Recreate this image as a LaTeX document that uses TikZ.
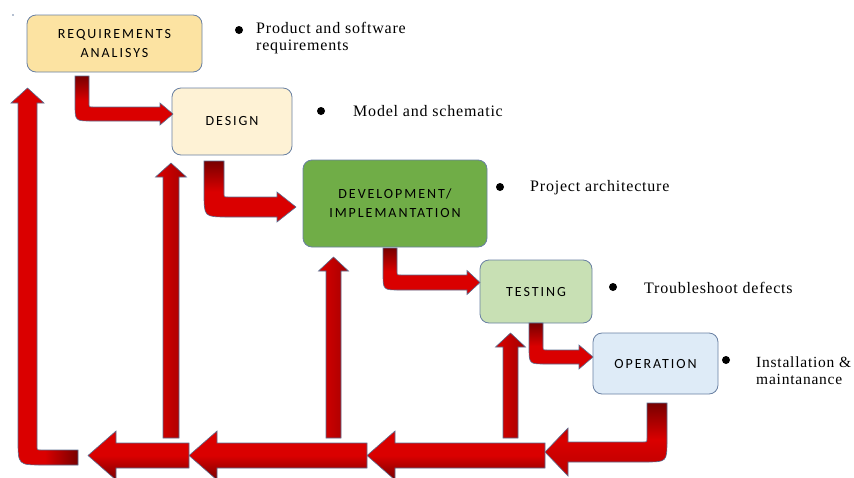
\documentclass[tikz,border=0pt]{standalone}
\usepackage{fontspec}
\setmainfont{Liberation Serif}[LetterSpace=5]
\setsansfont{Carlito}[LetterSpace=14]
\usetikzlibrary{positioning}

% colours of the stages and of the block arrows
\definecolor{reqfill}{HTML}{FCE3A2}
\definecolor{designfill}{HTML}{FEF2D5}
\definecolor{devfill}{HTML}{70AD47}
\definecolor{testfill}{HTML}{C8E0B4}
\definecolor{opfill}{HTML}{DEEBF7}
\definecolor{boxline}{RGB}{105,128,162}
\definecolor{arrline}{RGB}{90,110,145}
\definecolor{arrred}{HTML}{DA0000}
\definecolor{arrdark}{HTML}{780000}

\begin{document}
\begin{tikzpicture}[x=1pt,y=-1pt,
    stagebox/.style={rectangle, rounded corners=9pt, draw=boxline, line width=0.8pt, inner sep=0pt, align=center,
                     font=\sffamily\fontsize{14}{19}\selectfont},
    bulletdot/.style={circle, fill=black, inner sep=0pt, minimum size=8pt},
    note/.style={anchor=west, align=left, inner sep=0pt, font=\fontsize{16}{17}\selectfont},
    redarrow/.style={draw=arrline, line width=0.6pt}]

    \useasboundingbox (0,0) rectangle (854,477);

    % stray speck top left
    \node[circle, fill=boxline, inner sep=0pt, minimum size=1.6pt] (speck) at (13,15) {};

    % stages
    \node[stagebox, fill=reqfill, minimum width=175pt, minimum height=57pt] (req) at (114.5,43.5) {REQUIREMENTS\\ANALISYS};
    \node[stagebox, fill=designfill, minimum width=120pt, minimum height=67pt] (design) at (232,121.5) {DESIGN};
    \node[stagebox, fill=devfill, minimum width=184pt, minimum height=87pt] (dev) at (395,203.5) {DEVELOPMENT/\\IMPLEMANTATION};
    \node[stagebox, fill=testfill, minimum width=112pt, minimum height=63pt] (test) at (536,291.5) {TESTING};
    \node[stagebox, fill=opfill, minimum width=125pt, minimum height=61pt] (op) at (655.5,363.5) {OPERATION};

    % bullets and notes
    \node[bulletdot] (dot1) at (239,30) {};
    \node[note] (note1) at (256,38.5) {Product and software\\requirements};
    \node[bulletdot] (dot2) at (321,111) {};
    \node[note] (note2) at (353,111) {Model and schematic};
    \node[bulletdot] (dot3) at (500,187) {};
    \node[note] (note3) at (530,188) {Project architecture};
    \node[bulletdot] (dot4) at (613,287) {};
    \node[note] (note4) at (644,288) {Troubleshoot defects};
    \node[bulletdot] (dot5) at (726,360) {};
    \node[note, font=\fontsize{15.5}{17}\selectfont] (note5) at (756,370.5) {Installation \&\\maintanance};

    % bent arrows from one stage down to the next
    \foreach \xl/\xr/\yt/\yu/\yd/\hx/\tx/\hh in {75/89/76/107/121/160/173/11, 204/224/161/197/217/277/296/15,
                                                  383/397/248/275/290/467/480/12, 529/543/323/350/364/579/593/12}
        \shade[redarrow, top color=arrdark, bottom color=arrred, middle color=arrred]
            (\xl,\yt) -- (\xr,\yt) -- (\xr,{\yu-4}) .. controls (\xr,\yu) .. ({\xr+4},\yu) -- (\hx,\yu)
            -- (\hx,{(\yu+\yd)/2-\hh}) -- (\tx,{(\yu+\yd)/2}) -- (\hx,{(\yu+\yd)/2+\hh}) -- (\hx,\yd)
            -- ({\xl+1.2*(\xr-\xl)},\yd) .. controls (\xl,\yd) .. (\xl,{\yd-1.2*(\xr-\xl)}) -- cycle;

    % back arrows along the bottom
    \foreach \tip/\tail in {367/545, 189/367, 88/189}
        \shade[redarrow, top color=arrred, bottom color=arrdark, middle color=arrred]
            (\tail,443) -- ({\tip+28},443) -- ({\tip+28},431) -- (\tip,455.5) -- ({\tip+28},480)
            -- ({\tip+28},468) -- (\tail,468) -- cycle;

    % operation back to the bottom line
    \shade[redarrow, top color=arrdark, bottom color=arrred!85!black, middle color=arrred]
        (647,403) -- (667,403) -- (667,440) .. controls (667,462) .. (645,462) -- (568,462) -- (568,476)
        -- (545,452) -- (568,428) -- (568,442) -- (643,442) .. controls (647,442) .. (647,438) -- cycle;

    % up arrows into design, development and testing
    \foreach \a/\b/\t in {163/179/163, 326/341/257, 503/518/333}
        \shade[redarrow, left color=arrred, right color=arrred!75!black]
            (\a,438) -- (\a,{\t+14}) -- ({\a-7.5},{\t+14}) -- ({(\a+\b)/2},\t) -- ({\b+7.5},{\t+14})
            -- (\b,{\t+14}) -- (\b,438) -- cycle;

    % up arrow back to requirements
    \shade[redarrow, left color=arrred, right color=arrdark, middle color=arrred]
        (78,450) -- (78,465) -- (43,465) .. controls (18,465) .. (18,440) -- (18,103) -- (11,103)
        -- (27.5,88) -- (44,103) -- (37,103) -- (37,446) .. controls (37,450) .. (41,450) -- cycle;
\end{tikzpicture}
\end{document}
